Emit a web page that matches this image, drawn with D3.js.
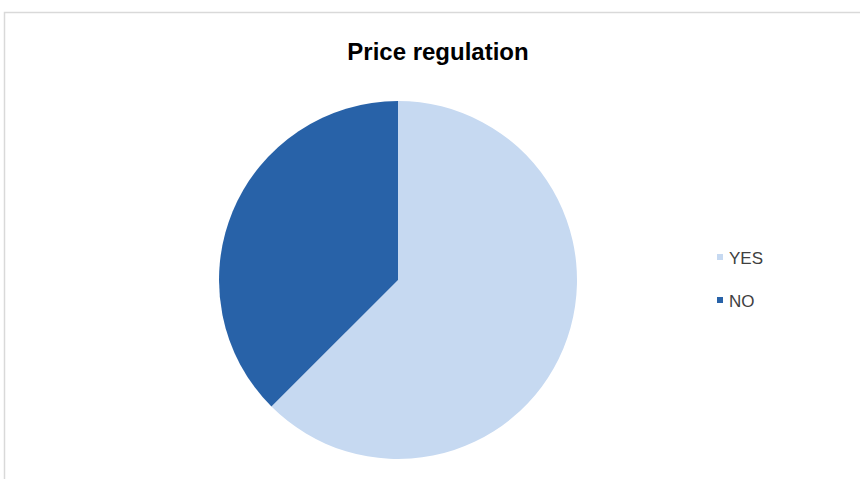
<!DOCTYPE html>
<html>
<head>
<meta charset="utf-8">
<script src="https://cdn.jsdelivr.net/npm/d3@7"></script>
<style>
  body { margin: 0; background: #fff; }
  svg { display: block; font-family: "Liberation Sans", Arial, sans-serif; }
</style>
</head>
<body>
<svg id="chart" width="860" height="479"></svg>
<script>
// data
var categories = ["YES", "NO"];
var values = [62.5, 37.5];
var colors = ["#c6d9f1", "#2862a8"];

var svg = d3.select("#chart");

// chart frame (runs off the right/bottom edge like the screenshot)
svg.append("rect")
    .attr("x", 4.5).attr("y", 12.5)
    .attr("width", 900).attr("height", 500)
    .style("fill", "none")
    .style("stroke", "#d9d9d9")
    .style("stroke-width", 1.5);

// title
svg.append("text")
    .attr("x", 438).attr("y", 60)
    .attr("text-anchor", "middle")
    .style("font-size", "24px")
    .style("font-weight", "bold")
    .style("fill", "#000")
    .text("Price regulation");

// pie
var cx = 398, cy = 280, r = 179;
var pie = d3.pie().sort(null).value(function(d){ return d; });
var arc = d3.arc().innerRadius(0).outerRadius(r);
var color = d3.scaleOrdinal().domain(categories).range(colors);

var g = svg.append("g").attr("transform", "translate(" + cx + "," + cy + ")");
g.selectAll("path")
    .data(pie(values))
    .enter().append("path")
    .attr("d", arc)
    .style("fill", function(d, i){ return color(categories[i]); });

// legend
var legend = svg.append("g").attr("transform", "translate(717,0)");
var ly = d3.scalePoint().domain(categories).range([264, 307]);
var item = legend.selectAll("g")
    .data(categories)
    .enter().append("g")
    .attr("transform", function(d){ return "translate(0," + ly(d) + ")"; });
item.append("rect")
    .attr("x", 0).attr("y", -10)
    .attr("width", 6).attr("height", 6)
    .style("fill", function(d){ return color(d); });
item.append("text")
    .attr("x", 12).attr("y", 0)
    .style("font-size", "17px")
    .style("fill", "#404040")
    .text(function(d){ return d; });
</script>
</body>
</html>
